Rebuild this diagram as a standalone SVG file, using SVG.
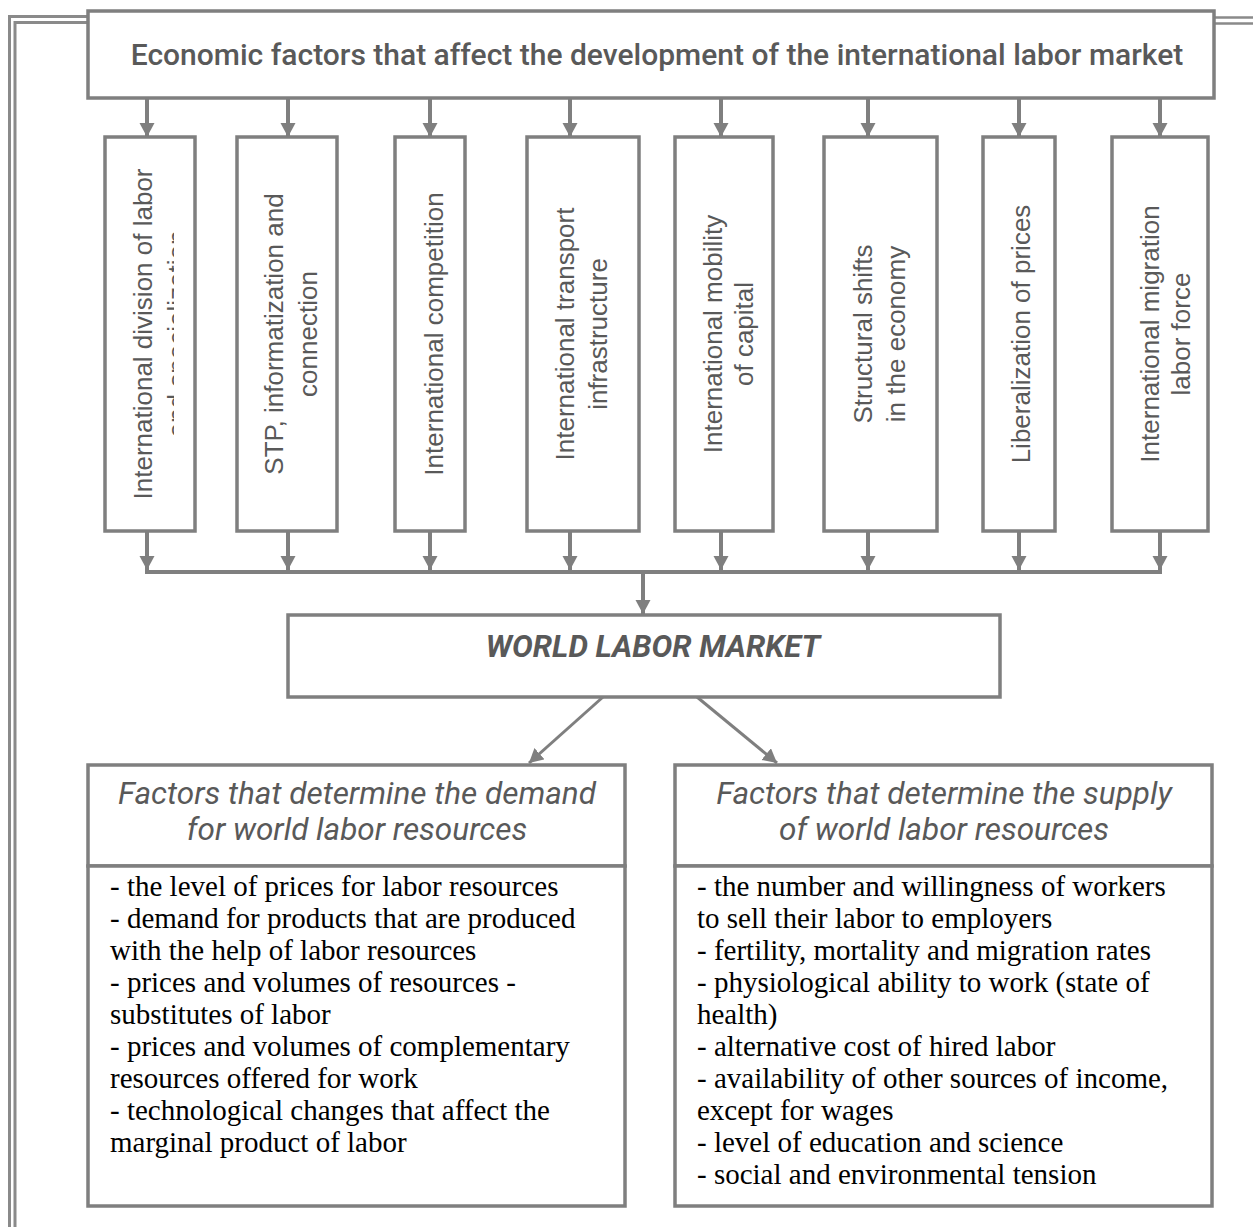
<svg xmlns="http://www.w3.org/2000/svg" width="1253" height="1227" viewBox="0 0 1253 1227">
<defs>
<style>
.box{fill:#fff;stroke:#7f7f7f;stroke-width:3.5}
.conn{stroke:#7f7f7f;stroke-width:4;fill:none}
.diag{stroke:#7f7f7f;stroke-width:3;fill:none}
.frame{stroke:#8a8a8a;stroke-width:3;fill:none}
.title{font-family:Roboto,"Liberation Sans",sans-serif;font-size:30px;fill:#595959;font-weight:500;text-anchor:middle}
.vt{font-family:"Liberation Sans",Arial,sans-serif;font-size:26px;fill:#595959;text-anchor:middle}
.wlm{font-family:Roboto,"Liberation Sans",sans-serif;font-size:31px;fill:#595959;font-weight:bold;font-style:italic;text-anchor:middle}
.hdr{font-family:Roboto,"Liberation Sans",sans-serif;font-size:31.5px;fill:#595959;font-style:italic;font-weight:normal;text-anchor:middle}
.body{font-family:"Liberation Serif","Times New Roman",serif;font-size:29px;fill:#000}
</style>
<marker id="ah" markerUnits="userSpaceOnUse" markerWidth="16" markerHeight="16" refX="14" refY="7.5" orient="auto">
<path d="M0,0 L14,7.5 L0,15 z" fill="#7f7f7f"/>
</marker>
<clipPath id="c1"><rect x="105" y="137" width="69" height="394"/></clipPath>
</defs>

<g id="frame">
<polyline class="frame" points="9.5,1227 9.5,16.5 88,16.5"/>
<polyline class="frame" points="15,1227 15,22.5 88,22.5"/>
<line x1="1215" y1="17.5" x2="1253" y2="17.5" stroke="#8a8a8a" stroke-width="2.5"/>
<line x1="1215" y1="23.5" x2="1253" y2="23.5" stroke="#8a8a8a" stroke-width="2.5"/>
</g>

<g id="connectors">
<line class="conn" x1="147" y1="99" x2="147" y2="137" marker-end="url(#ah)"/>
<line class="conn" x1="288" y1="99" x2="288" y2="137" marker-end="url(#ah)"/>
<line class="conn" x1="430" y1="99" x2="430" y2="137" marker-end="url(#ah)"/>
<line class="conn" x1="570" y1="99" x2="570" y2="137" marker-end="url(#ah)"/>
<line class="conn" x1="721" y1="99" x2="721" y2="137" marker-end="url(#ah)"/>
<line class="conn" x1="868" y1="99" x2="868" y2="137" marker-end="url(#ah)"/>
<line class="conn" x1="1019" y1="99" x2="1019" y2="137" marker-end="url(#ah)"/>
<line class="conn" x1="1160" y1="99" x2="1160" y2="137" marker-end="url(#ah)"/>
<line class="conn" x1="147" y1="532" x2="147" y2="570" marker-end="url(#ah)"/>
<line class="conn" x1="288" y1="532" x2="288" y2="570" marker-end="url(#ah)"/>
<line class="conn" x1="430" y1="532" x2="430" y2="570" marker-end="url(#ah)"/>
<line class="conn" x1="570" y1="532" x2="570" y2="570" marker-end="url(#ah)"/>
<line class="conn" x1="721" y1="532" x2="721" y2="570" marker-end="url(#ah)"/>
<line class="conn" x1="868" y1="532" x2="868" y2="570" marker-end="url(#ah)"/>
<line class="conn" x1="1019" y1="532" x2="1019" y2="570" marker-end="url(#ah)"/>
<line class="conn" x1="1160" y1="532" x2="1160" y2="570" marker-end="url(#ah)"/>
<line class="conn" x1="145" y1="572" x2="1162" y2="572" stroke-width="4.5"/>
<line class="conn" x1="643" y1="574" x2="643" y2="614" marker-end="url(#ah)"/>
<line class="diag" x1="603" y1="697" x2="529" y2="763" marker-end="url(#ah)"/>
<line class="diag" x1="697" y1="697" x2="777" y2="763" marker-end="url(#ah)"/>
</g>

<g id="title">
<rect class="box" x="88" y="11" width="1126" height="87"/>
<text class="title" x="657" y="65">Economic factors that affect the development of the international labor market</text>
</g>

<g id="f1">
<rect class="box" x="105" y="137" width="90" height="394"/>
<g clip-path="url(#c1)">
<text class="vt" transform="translate(152,334) rotate(-90)">International division of labor</text>
<text class="vt" transform="translate(186,334) rotate(-90)">and specialization</text>
</g>
</g>
<g id="f2">
<rect class="box" x="237" y="137" width="100" height="394"/>
<text class="vt" transform="translate(283,334) rotate(-90)">STP, informatization and</text>
<text class="vt" transform="translate(317,334) rotate(-90)">connection</text>
</g>
<g id="f3">
<rect class="box" x="395" y="137" width="70" height="394"/>
<text class="vt" transform="translate(443,334) rotate(-90)">International competition</text>
</g>
<g id="f4">
<rect class="box" x="527" y="137" width="112" height="394"/>
<text class="vt" transform="translate(574,334) rotate(-90)">International transport</text>
<text class="vt" transform="translate(607,334) rotate(-90)">infrastructure</text>
</g>
<g id="f5">
<rect class="box" x="675" y="137" width="98" height="394"/>
<text class="vt" transform="translate(722,334) rotate(-90)">International mobility</text>
<text class="vt" transform="translate(753,334) rotate(-90)">of capital</text>
</g>
<g id="f6">
<rect class="box" x="824" y="137" width="113" height="394"/>
<text class="vt" transform="translate(872,334) rotate(-90)">Structural shifts</text>
<text class="vt" transform="translate(905,334) rotate(-90)">in the economy</text>
</g>
<g id="f7">
<rect class="box" x="983" y="137" width="72" height="394"/>
<text class="vt" transform="translate(1030,334) rotate(-90)">Liberalization of prices</text>
</g>
<g id="f8">
<rect class="box" x="1112" y="137" width="96" height="394"/>
<text class="vt" transform="translate(1159,334) rotate(-90)">International migration</text>
<text class="vt" transform="translate(1190,334) rotate(-90)">labor force</text>
</g>

<g id="wlm">
<rect class="box" x="288" y="615" width="712" height="82"/>
<text class="wlm" x="653" y="657">WORLD LABOR MARKET</text>
</g>

<g id="demand">
<rect class="box" x="88" y="765" width="537" height="101"/>
<text class="hdr" x="357" y="804">Factors that determine the demand</text>
<text class="hdr" x="357" y="840">for world labor resources</text>
<rect class="box" x="88" y="866" width="537" height="340"/>
<text class="body" x="110" y="896">- the level of prices for labor resources</text>
<text class="body" x="110" y="928">- demand for products that are produced</text>
<text class="body" x="110" y="960">with the help of labor resources</text>
<text class="body" x="110" y="992">- prices and volumes of resources -</text>
<text class="body" x="110" y="1024">substitutes of labor</text>
<text class="body" x="110" y="1056">- prices and volumes of complementary</text>
<text class="body" x="110" y="1088">resources offered for work</text>
<text class="body" x="110" y="1120">- technological changes that affect the</text>
<text class="body" x="110" y="1152">marginal product of labor</text>
</g>

<g id="supply">
<rect class="box" x="675" y="765" width="537" height="101"/>
<text class="hdr" x="944" y="804">Factors that determine the supply</text>
<text class="hdr" x="944" y="840">of world labor resources</text>
<rect class="box" x="675" y="866" width="537" height="340"/>
<text class="body" x="697" y="896">- the number and willingness of workers</text>
<text class="body" x="697" y="928">to sell their labor to employers</text>
<text class="body" x="697" y="960">- fertility, mortality and migration rates</text>
<text class="body" x="697" y="992">- physiological ability to work (state of</text>
<text class="body" x="697" y="1024">health)</text>
<text class="body" x="697" y="1056">- alternative cost of hired labor</text>
<text class="body" x="697" y="1088">- availability of other sources of income,</text>
<text class="body" x="697" y="1120">except for wages</text>
<text class="body" x="697" y="1152">- level of education and science</text>
<text class="body" x="697" y="1184">- social and environmental tension</text>
</g>
</svg>
